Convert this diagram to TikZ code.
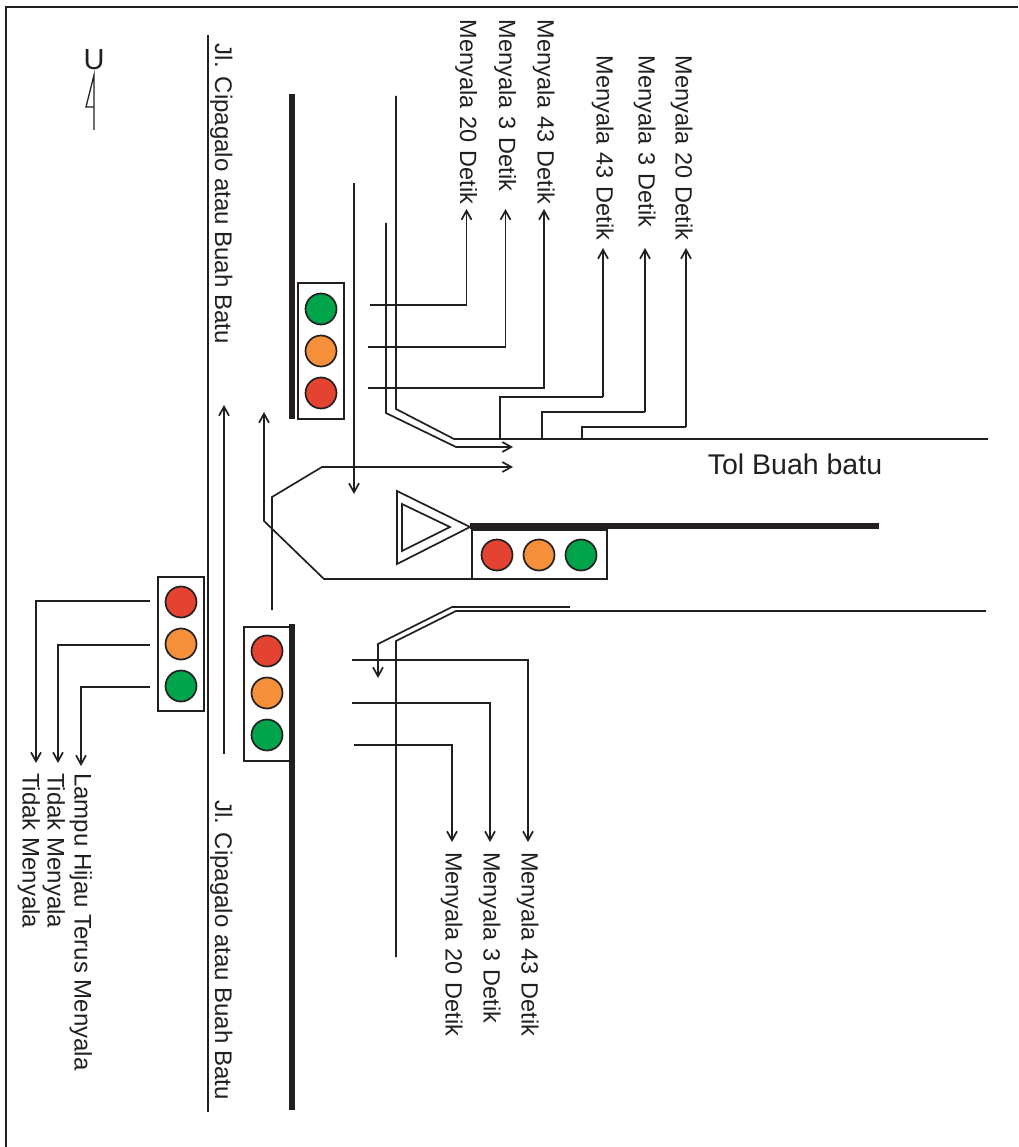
\documentclass[tikz,border=0pt]{standalone}
\usepackage{fontspec}
\setmainfont{Liberation Sans}
\usetikzlibrary{arrows.meta}
\definecolor{ink}{HTML}{231F20}
\definecolor{lred}{HTML}{E34330}
\definecolor{lorange}{HTML}{F68F3A}
\definecolor{lgreen}{HTML}{00A44A}
\tikzset{% styles of the plan
    l/.style={draw=ink, line width=1.7pt},
    e/.style={l, -{Straight Barb[length=9pt,width=10pt]}},
    bar/.style={draw=ink, line width=6pt},
    lamp/.style={circle, minimum size=31pt, inner sep=0pt, draw=ink, line width=1.7pt},
    box/.style={draw=ink, line width=1.7pt, inner sep=0pt, outer sep=0pt},
    txt/.style={text=ink, inner sep=0pt, font=\fontsize{24}{24}\selectfont},
    lbl/.style={txt, rotate=-90, outer xsep=7pt, outer ysep=0pt, text height=13pt, text depth=0pt},
    lbm/.style={lbl, font=\fontsize{23.5}{24}\selectfont, outer xsep=3pt, text width=186pt, align=left}}
\begin{document}
\begin{tikzpicture}[x=1pt, y=-1pt]
    \useasboundingbox (0,0) rectangle (1018,1147);

    % frame and north sign
    \draw[l] (6,1147) -- (6,7) -- (1018,7);
    \node[txt, font=\fontsize{29}{29}\selectfont] (u) at (94,60) {U};
    \draw[draw=ink, line width=1.3pt] (94,130) -- (94,75) -- (86,107) -- (94,107);

    % roads
    \draw[l] (208,35) -- (208,1112);
    \draw[bar] (292,94) -- (292,419);
    \draw[bar] (292,624) -- (292,1110);
    \draw[bar] (470,526) -- (879,526);
    \node[lbl, anchor=west] (jl1) at (221.5,37) {Jl. Cipagalo atau Buah Batu};
    \node[lbl, anchor=west] (jl2) at (221.5,793) {Jl. Cipagalo atau Buah Batu};
    \node[txt, font=\fontsize{28.5}{29}\selectfont] (tol) at (795,464) {Tol Buah batu};

    % traffic lights
    \node[box, minimum width=46pt, minimum height=136pt] (boxn) at (321,351) {};
    \node[lamp, fill=lgreen] (n1) at (321,309) {};
    \node[lamp, fill=lorange] (n2) at (321,351) {};
    \node[lamp, fill=lred] (n3) at (321,393) {};
    \node[box, minimum width=46pt, minimum height=134pt] (boxw) at (181,644) {};
    \node[lamp, fill=lred] (w1) at (181,602) {};
    \node[lamp, fill=lorange] (w2) at (181,644) {};
    \node[lamp, fill=lgreen] (w3) at (181,686) {};
    \node[box, minimum width=46pt, minimum height=134pt] (boxs) at (267,694) {};
    \node[lamp, fill=lred] (s1) at (267,651) {};
    \node[lamp, fill=lorange] (s2) at (267,693) {};
    \node[lamp, fill=lgreen] (s3) at (267,735) {};
    \node[box, minimum width=135pt, minimum height=49pt] (boxe) at (539.5,554.5) {};
    \node[lamp, fill=lred] (e1) at (497,555) {};
    \node[lamp, fill=lorange] (e2) at (539,555) {};
    \node[lamp, fill=lgreen] (e3) at (581,555) {};

    % island
    \draw[l, line join=miter] (397,491) -- (470,527) -- (397,564) -- cycle;
    \draw[l, line join=miter] (402,504) -- (450,527) -- (402,551) -- cycle;

    % traffic flows
    \coordinate (fa1) at (224,754);
    \coordinate (fa2) at (224,405);
    \coordinate (fb1) at (boxe.south west);
    \coordinate (fb2) at (264,412);
    \coordinate (fc1) at (272,610);
    \coordinate (fc2) at (513,467);
    \coordinate (fd1) at (354,183);
    \coordinate (fd2) at (354,494);
    \coordinate (fe1) at (386,223);
    \coordinate (fe2) at (513,447);
    \coordinate (ff1) at (570,607);
    \coordinate (ff2) at (378,678);
    \coordinate (ra1) at (396,96);
    \coordinate (ra2) at (988,439);
    \coordinate (rb1) at (986,611);
    \coordinate (rb2) at (396,957);
    \draw[e] (fa1) -- (fa2);
    \draw[e] (fb1) -- (324,579) -- (264,521) -- (fb2);
    \draw[e] (fc1) -- (272,497) -- (322,467) -- (fc2);
    \draw[e] (fd1) -- (fd2);
    \draw[e] (fe1) -- (386,413) -- (456,447) -- (fe2);
    \draw[e] (ff1) -- (452,607) -- (378,644) -- (ff2);
    \draw[l] (ra1) -- (396,409) -- (454,439) -- (ra2);
    \draw[l] (rb1) -- (456,611) -- (396,641) -- (rb2);

    % labels of the north light
    \node[lbm, anchor=east] (tn1) at (466.5,209) {Menyala 20 Detik};
    \node[lbm, anchor=east] (tn2) at (505.5,209) {Menyala 3 Detik};
    \node[lbm, anchor=east] (tn3) at (544,209) {Menyala 43 Detik};
    \coordinate (cn1) at (370,305);
    \coordinate (cn2) at (368,347);
    \coordinate (cn3) at (368,388);
    \draw[e] (cn1) -| (tn1);
    \draw[e] (cn2) -| (tn2);
    \draw[e] (cn3) -| (tn3);

    % labels of the east light
    \node[lbm, anchor=east, text width=189pt] (te1) at (603,248) {Menyala 43 Detik};
    \node[lbm, anchor=east, text width=189pt] (te2) at (645,248) {Menyala 3 Detik};
    \node[lbm, anchor=east, text width=189pt] (te3) at (682,248) {Menyala 20 Detik};
    \coordinate (ce1) at (500,439);
    \coordinate (ce2) at (542,439);
    \coordinate (ce3) at (582,439);
    \coordinate (ke1) at (603,397);
    \coordinate (ke2) at (645,412);
    \coordinate (ke3) at (686,427);
    \draw[l] (ce1) |- (ke1);
    \draw[e] (ke1) -- (te1);
    \draw[l] (ce2) |- (ke2);
    \draw[e] (ke2) -- (te2);
    \draw[l] (ce3) |- (ke3);
    \draw[e] (ke3) -- (ke3 |- te3.east);

    % labels of the south light
    \node[lbm, anchor=west, outer xsep=10pt] (ts1) at (528,842) {Menyala 43 Detik};
    \node[lbm, anchor=west, outer xsep=10pt] (ts2) at (490,842) {Menyala 3 Detik};
    \node[lbm, anchor=west, outer xsep=10pt] (ts3) at (452,842) {Menyala 20 Detik};
    \coordinate (cs1) at (352,660);
    \coordinate (cs2) at (352,703);
    \coordinate (cs3) at (354,745);
    \draw[e] (cs1) -| (ts1);
    \draw[e] (cs2) -| (ts2);
    \draw[e] (cs3) -| (ts3);

    % labels of the west light
    \node[lbl, anchor=west] (tw1) at (81,766) {Lampu Hijau Terus Menyala};
    \node[lbl, anchor=west] (tw2) at (54,766) {Tidak Menyala};
    \node[lbl, anchor=west] (tw3) at (29,766) {Tidak Menyala};
    \coordinate (cw1) at (150,601);
    \coordinate (cw2) at (150,645);
    \coordinate (cw3) at (150,687);
    \coordinate (kw1) at (36,763);
    \coordinate (kw2) at (58,763);
    \draw[e] (cw1) -| (kw1);
    \draw[e] (cw2) -| (kw2);
    \draw[e] (cw3) -| (tw1);
\end{tikzpicture}
\end{document}
